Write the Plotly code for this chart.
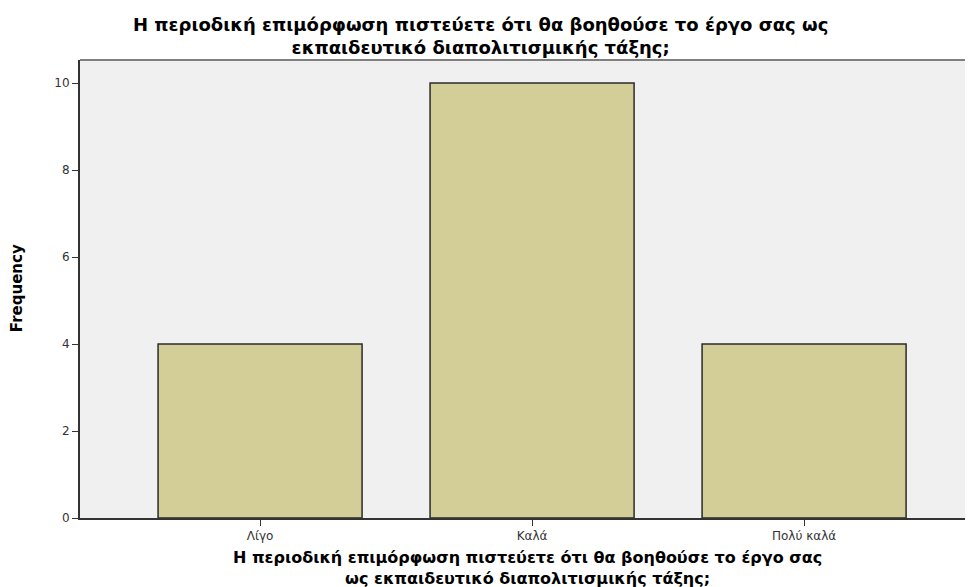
import plotly.graph_objects as go

categories = ["Λίγο", "Καλά", "Πολύ καλά"]
frequencies = [4, 10, 4]
y_ticks = [0, 2, 4, 6, 8, 10]

title_lines = [
    "Η περιοδική επιμόρφωση πιστεύετε ότι θα βοηθούσε το έργο σας ως",
    "εκπαιδευτικό διαπολιτισμικής τάξης;",
]
xaxis_title_lines = [
    "Η περιοδική επιμόρφωση πιστεύετε ότι θα βοηθούσε το έργο σας",
    "ως εκπαιδευτικό διαπολιτισμικής τάξης;",
]
yaxis_title = "Frequency"

FONT = "DejaVu Sans, sans-serif"

fig = go.Figure(
    go.Bar(
        x=list(range(len(categories))),
        y=frequencies,
        width=0.75,
        marker=dict(color="#D3CE97", line=dict(color="#2b2b2b", width=1.5)),
        hoverinfo="skip",
    )
)

annotations = [
    dict(text="<b>" + "<br>".join(title_lines) + "</b>", xref="paper", yref="paper",
         x=0.449, y=1.053, xanchor="center", yanchor="middle", align="center",
         showarrow=False, font=dict(family=FONT, size=18, color="black")),
    dict(text="<b>" + "<br>".join(xaxis_title_lines) + "</b>", xref="paper", yref="paper",
         x=0.5006, y=-0.110, xanchor="center", yanchor="middle", align="center",
         showarrow=False, font=dict(family=FONT, size=16, color="black")),
    dict(text="<b>" + yaxis_title + "</b>", xref="paper", yref="paper",
         x=-0.0705, y=0.502, xanchor="center", yanchor="middle", textangle=-90,
         showarrow=False, font=dict(family=FONT, size=15, color="black")),
]

fig.update_layout(
    width=965,
    height=579,
    margin=dict(l=72, r=0, t=52, b=69, pad=0),
    paper_bgcolor="white",
    plot_bgcolor="#F0F0F0",
    showlegend=False,
    xaxis=dict(
        range=[-0.662, 2.621],
        tickmode="array",
        tickvals=list(range(len(categories))),
        ticktext=categories,
        ticks="outside",
        ticklen=6,
        tickcolor="#333333",
        tickfont=dict(family=FONT, size=12, color="#333333"),
        showline=True,
        linecolor="#333333",
        linewidth=2,
        showgrid=False,
        zeroline=False,
        automargin=False,
    ),
    yaxis=dict(
        range=[0, 10.53],
        tickmode="array",
        tickvals=y_ticks,
        ticks="outside",
        ticklen=6,
        tickcolor="#333333",
        tickfont=dict(family=FONT, size=12, color="#333333"),
        showline=True,
        linecolor="#333333",
        linewidth=2,
        showgrid=False,
        zeroline=False,
        automargin=False,
    ),
    annotations=annotations,
    shapes=[
        dict(type="line", xref="paper", yref="paper", x0=0, x1=1, y0=1, y1=1,
             line=dict(color="#808080", width=2))
    ],
)

fig.write_html("out.html")
